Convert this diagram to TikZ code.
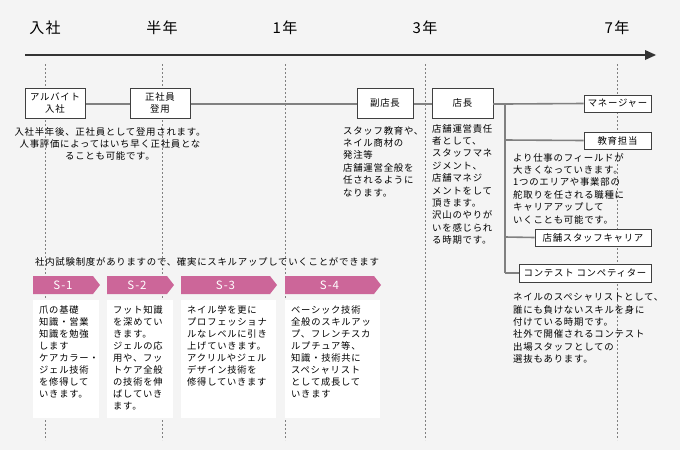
\documentclass[tikz,border=0pt]{standalone}
\usepackage{fontspec}
\setmainfont[LetterSpace=8]{Noto Sans CJK JP}
\begin{document}
\begin{tikzpicture}[x=1pt,y=-1pt,
  every node/.style={font=\fontsize{9.4}{12.4}\selectfont,inner sep=0pt},
  box/.style={draw=black!75,fill=white,line width=0.6pt,align=center},
  txt/.style={align=left,anchor=north west},
  pk/.style={fill=pinkc},
  wb/.style={fill=white}]
\definecolor{pinkc}{HTML}{CC6699}
\definecolor{bgc}{HTML}{F4F4F4}
\fill[bgc] (0,0) rectangle (680,450);
\useasboundingbox (0,0) rectangle (680,450);
% year labels
\foreach \x/\t/\n in {45/入社/ya,162/半年/yb,285/1年/yc,425/3年/yd,617/7年/ye}{
  \node[font=\fontsize{15}{15}\selectfont] (\n) at (\x,28) {\t};
  \draw[gray,line width=0.5pt,dash pattern=on 2pt off 2pt] (\x,64) -- (\x,440);
}
\coordinate (as) at (25,55); \coordinate (ae) at (656,55);
\draw[line width=2.2pt,black!80] (as) -- (645,55);
\fill[black!80] (ae) -- (645,50) -- (645,60) -- cycle;
% main line
\coordinate (l1) at (55,104); \coordinate (l2) at (462,104);
\draw[line width=1.6pt,gray] (l1) -- (l2);
\node[box,minimum width=60,minimum height=30] (b1) at (55,103) {アルバイト\\入社};
\node[box,minimum width=60,minimum height=30] (b2) at (160,103) {正社員\\登用};
\node[box,minimum width=56,minimum height=30] (b3) at (385,103) {副店長};
\node[box,minimum width=61,minimum height=30] (b4) at (462.5,103) {店長};
% branches
\coordinate (j0) at (505,104); \coordinate (j1) at (505,140);
\coordinate (j2) at (505,237); \coordinate (j3) at (505,273);
\draw[line width=1.6pt,gray] (b4.east|-j0) -- (j0) -- (j3);
\node[box,minimum width=67,minimum height=17] (m1) at (617.5,103.5) {マネージャー};
\node[box,minimum width=67,minimum height=17] (m2) at (617.5,140.5) {教育担当};
\node[box,minimum width=116,minimum height=17] (m3) at (593,237.5) {店舗スタッフキャリア};
\node[box,minimum width=132,minimum height=18] (m4) at (585,273) {コンテスト コンペティター};
\draw[line width=1.6pt,gray] (j0) -- (m1.west);
\draw[line width=1.6pt,gray] (j1) -- (m2.west);
\draw[line width=1.6pt,gray] (j2) -- (m3.west);
\draw[line width=1.6pt,gray] (j3) -- (m4.west);
% descriptions
\node[align=center,anchor=north] (t1) at (110,127) {入社半年後、正社員として登用されます。\\人事評価によってはいち早く正社員とな\\ることも可能です。};
\node[txt] (t3) at (343,126) {スタッフ教育や、\\ネイル商材の\\発注等\\店舗運営全般を\\任されるように\\なります。};
\node[txt] (t4) at (432,124) {店舗運営責任\\者として、\\スタッフマネ\\ジメント、\\店舗マネジ\\メントをして\\頂きます。\\沢山のやりが\\いを感じられ\\る時期です。};
\node[txt] (t5) at (513,153) {より仕事のフィールドが\\大きくなっていきます。\\1つのエリアや事業部の\\舵取りを任される職種に\\キャリアアップして\\いくことも可能です。};
\node[txt] (t6) at (513,293) {ネイルのスペシャリストとして、\\誰にも負けないスキルを身に\\付けている時期です。\\社外で開催されるコンテスト\\出場スタッフとしての\\選抜もあります。};
\node[txt] (t7) at (35,257) {社内試験制度がありますので、確実にスキルアップしていくことができます};
% steps
\foreach \a/\b/\s/\n/\tx in {
 33/100/S-1/s1/{爪の基礎\\知識・営業\\知識を勉強\\します\\ケアカラー・\\ジェル技術\\を修得して\\いきます。},
 107/174/S-2/s2/{フット知識\\を深めてい\\きます。\\ジェルの応\\用や、フッ\\トケア全般\\の技術を伸\\ばしていき\\ます。},
 181/277/S-3/s3/{ネイル学を更に\\プロフェッショナ\\ルなレベルに引き\\上げていきます。\\アクリルやジェル\\デザイン技術を\\修得していきます},
 285/381/S-4/s4/{ベーシック技術\\全般のスキルアッ\\プ、フレンチスカ\\ルプチュア等、\\知識・技術共に\\スペシャリスト\\として成長して\\いきます}}{
  \fill[pinkc] (\a,276) -- (\b-7,276) -- (\b,285) -- (\b-7,294) -- (\a,294) -- cycle;
  \node[white,font=\fontsize{11.5}{11.5}\selectfont] (\n) at ({(\a+\b-7)/2},285) {\s};
  \fill[white] (\a,300) rectangle (\b-1,418);
  \node[txt,font=\fontsize{9.3}{12}\selectfont] (\n t) at (\a+6,305) {\tx};
}
\end{tikzpicture}
\end{document}
